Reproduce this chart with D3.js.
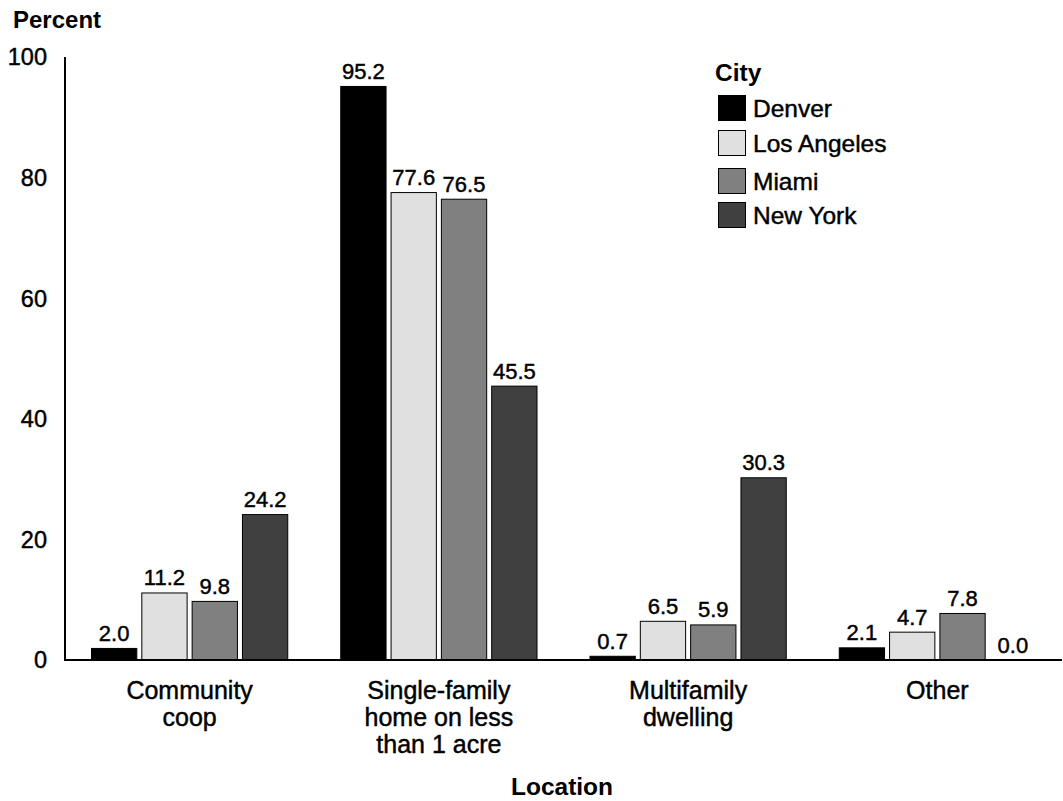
<!DOCTYPE html>
<html>
<head>
<meta charset="utf-8">
<script src="https://cdn.jsdelivr.net/npm/d3@7/dist/d3.min.js"></script>
<style>
  html, body { margin: 0; padding: 0; background: #fff; }
  svg { display: block; font-family: Arial, "Liberation Sans", Helvetica, sans-serif; }
  .reg { stroke: #000; stroke-width: 0.45px; paint-order: stroke; }
</style>
</head>
<body>
<svg id="chart" width="1063" height="801"></svg>
<script>
// Location categories (multi-line labels) and city series
const locations = [
  ["Community", "coop"],
  ["Single-family", "home on less", "than 1 acre"],
  ["Multifamily", "dwelling"],
  ["Other"]
];
const cities = ["Denver", "Los Angeles", "Miami", "New York"];
const cityColors = ["#000000", "#e0e0e0", "#808080", "#404040"];

// Percent of households by location, one array per city
const denver     = [2.0, 95.2, 0.7, 2.1];
const losAngeles = [11.2, 77.6, 6.5, 4.7];
const miami      = [9.8, 76.5, 5.9, 7.8];
const newYork    = [24.2, 45.5, 30.3, 0.0];
const yTicks = [0, 20, 40, 60, 80, 100];

const series = [denver, losAngeles, miami, newYork];

const svg = d3.select("#chart");
const x0 = 65, x1 = 1062, yBottom = 660, yTop = 57;

const x = d3.scaleBand().domain(d3.range(locations.length)).range([x0, x1]).padding(0);
const xi = d3.scaleBand().domain(d3.range(cities.length)).range([26, x.bandwidth() - 26]).paddingInner(0.08);
const y = d3.scaleLinear().domain([0, 100]).range([yBottom, yTop]);

// y-axis tick labels
svg.append("g").selectAll("text").data(yTicks).join("text")
  .attr("class", "reg")
  .attr("x", 47).attr("y", d => y(d)).attr("dy", "0.36em")
  .attr("text-anchor", "end").attr("font-size", 23.5).attr("fill", "#000")
  .text(d => d);

// bars and value labels
const groups = svg.append("g").selectAll("g").data(locations).join("g")
  .attr("transform", (d, i) => `translate(${x(i)},0)`);

groups.each(function(_, li) {
  const g = d3.select(this);
  series.forEach((vals, ci) => {
    const v = vals[li];
    const bx = xi(ci), bw = xi.bandwidth();
    if (v > 0) {
      g.append("rect")
        .attr("x", bx + 0.5).attr("y", y(v) + 0.5)
        .attr("width", bw - 1).attr("height", Math.max(0, y(0) - y(v) - 1))
        .attr("fill", cityColors[ci]).attr("stroke", "#000").attr("stroke-width", 1);
    }
    g.append("text")
      .attr("class", "reg")
      .attr("x", bx + bw / 2).attr("y", y(v) - 7)
      .attr("text-anchor", "middle").attr("font-size", 22).attr("fill", "#000")
      .text(v.toFixed(1));
  });
});

// axis lines
svg.append("line").attr("x1", x0).attr("x2", x0).attr("y1", yTop).attr("y2", yBottom + 1)
  .attr("stroke", "#000").attr("stroke-width", 2);
svg.append("line").attr("x1", x0 - 1).attr("x2", x1).attr("y1", yBottom).attr("y2", yBottom)
  .attr("stroke", "#000").attr("stroke-width", 2);

// category labels
svg.append("g").selectAll("text").data(locations).join("text")
  .attr("class", "reg")
  .attr("x", (d, i) => x(i) + x.bandwidth() / 2)
  .attr("y", 699)
  .attr("text-anchor", "middle").attr("font-size", 25).attr("fill", "#000")
  .each(function(lines) {
    const tx = d3.select(this).attr("x");
    d3.select(this).selectAll("tspan").data(lines).join("tspan")
      .attr("x", tx)
      .attr("dy", (d, k) => k === 0 ? 0 : 27)
      .text(d => d);
  });

// axis titles
svg.append("text").attr("x", 13).attr("y", 28).attr("font-size", 24).attr("font-weight", "bold").text("Percent");
svg.append("text").attr("x", 562).attr("y", 795).attr("text-anchor", "middle")
  .attr("font-size", 24.5).attr("font-weight", "bold").text("Location");

// legend
const legend = svg.append("g").attr("transform", "translate(718,0)");
legend.append("text").attr("x", -3).attr("y", 81).attr("font-size", 24.5).attr("font-weight", "bold").text("City");
const legendY = [95, 130, 168, 202];
cities.forEach((c, i) => {
  legend.append("rect").attr("x", 0.5).attr("y", legendY[i] + 0.5).attr("width", 27).attr("height", 25)
    .attr("fill", cityColors[i]).attr("stroke", "#000").attr("stroke-width", 1);
  legend.append("text").attr("class", "reg")
    .attr("x", 35).attr("y", legendY[i] + 13).attr("dy", "0.36em")
    .attr("font-size", 24.5).attr("fill", "#000").text(c);
});
</script>
</body>
</html>
